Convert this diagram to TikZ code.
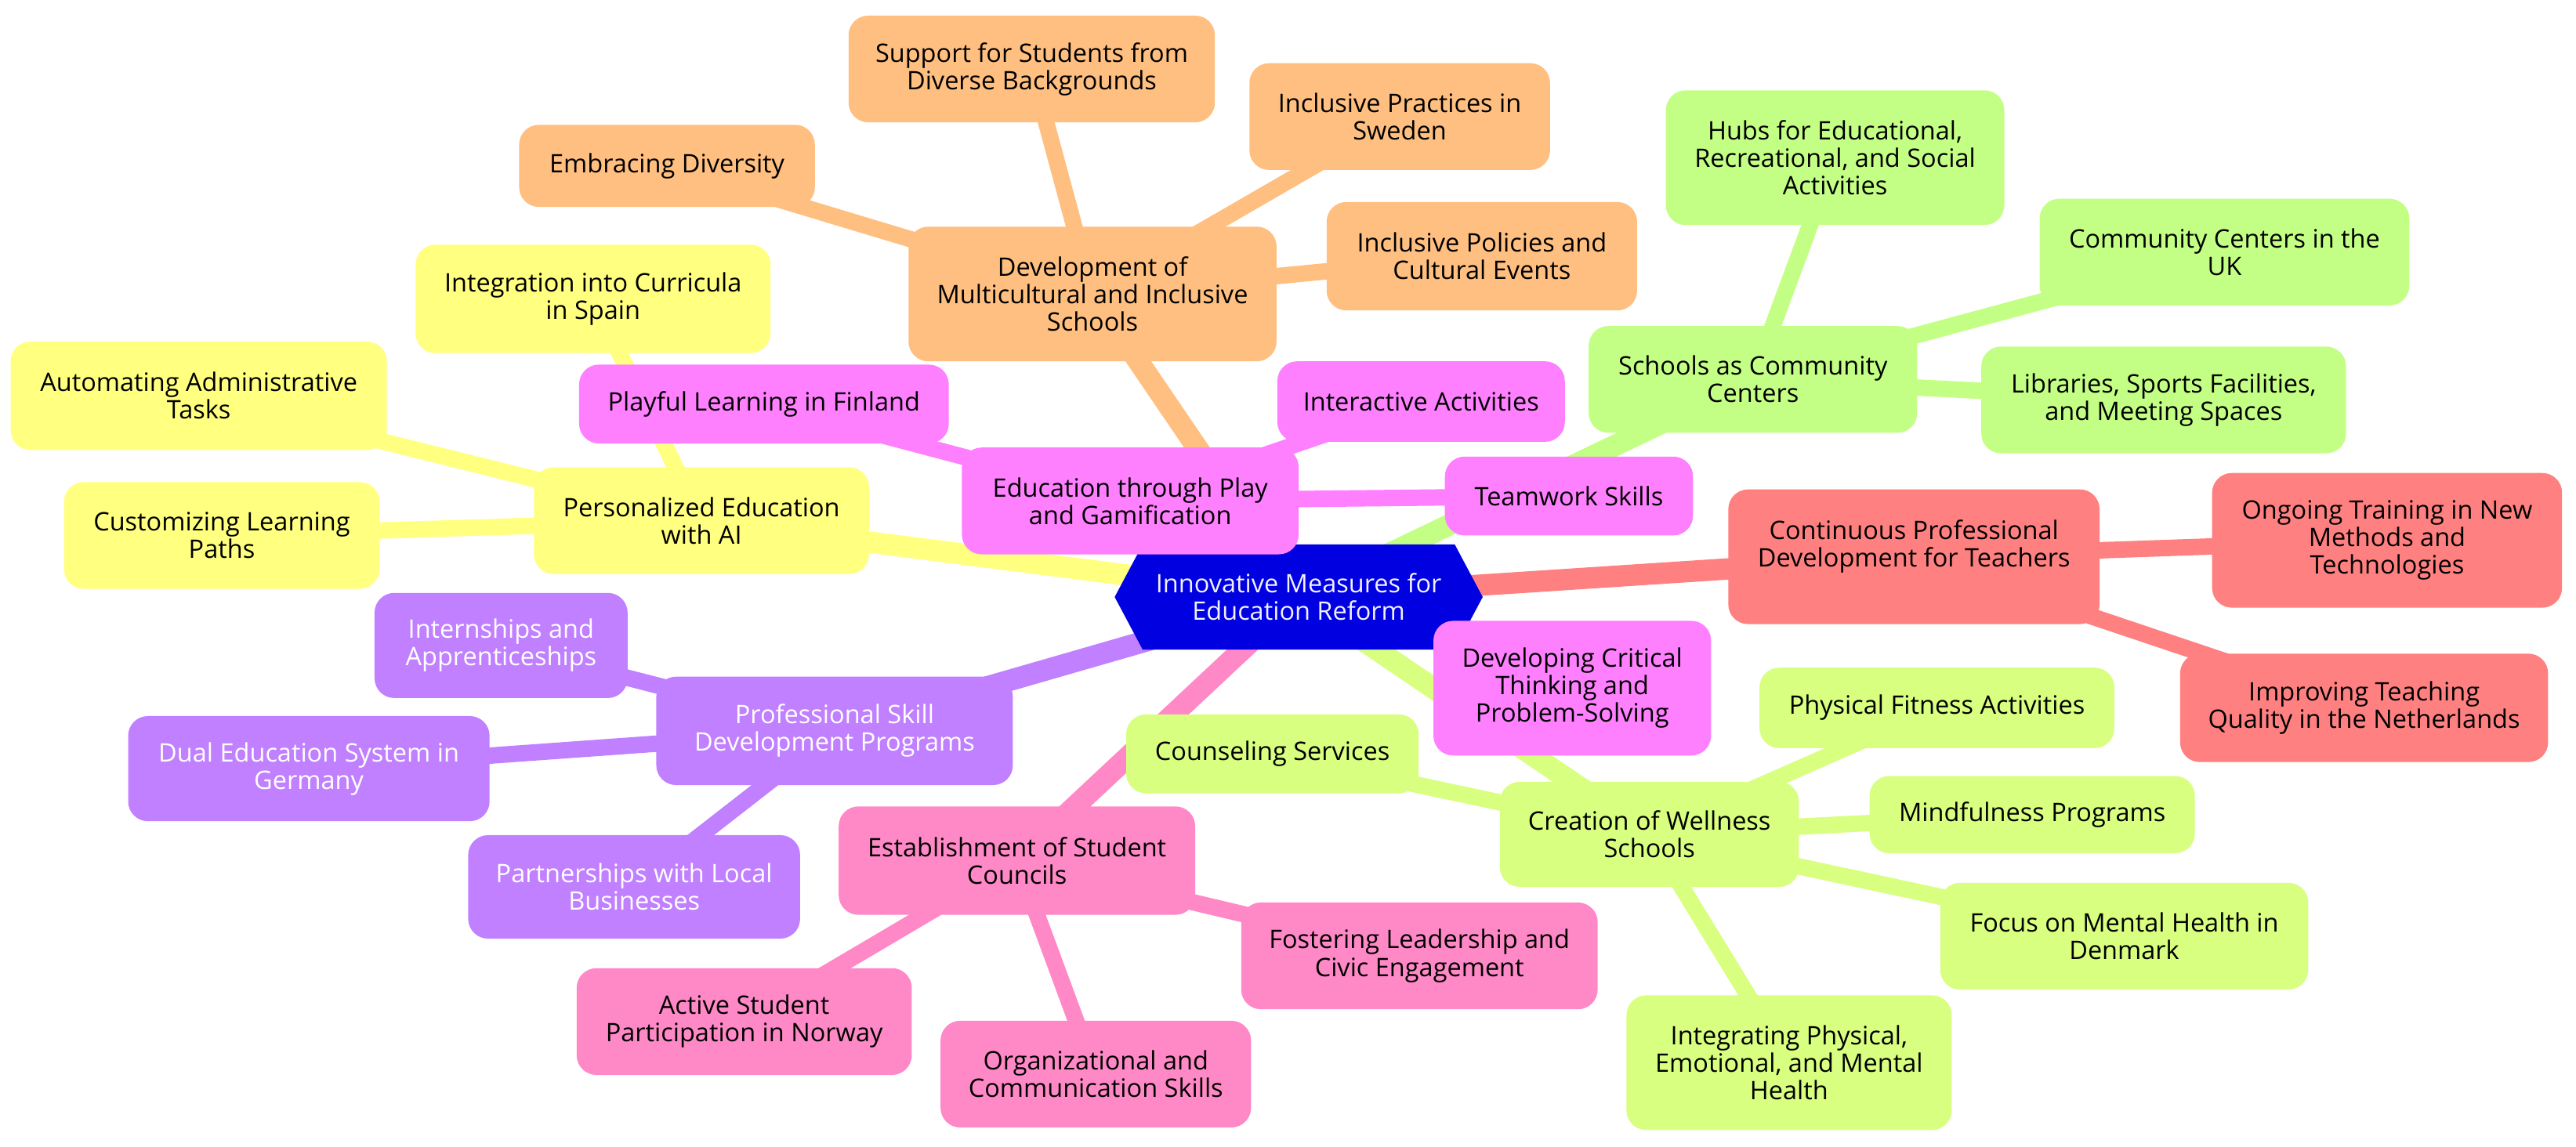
\documentclass[tikz,border=0pt]{standalone}
\usepackage{fontspec}
\setmainfont{Open Sans}
\usetikzlibrary{shapes.symbols,backgrounds}
\definecolor{cRoot}{HTML}{0000E0}
\definecolor{cOr}{HTML}{FFBF80}
\definecolor{cMag}{HTML}{FF80FF}
\definecolor{cGrn}{HTML}{C4FF85}
\definecolor{cRed}{HTML}{FF8080}
\definecolor{cWel}{HTML}{D8FF80}
\definecolor{cPnk}{HTML}{FF88C6}
\definecolor{cPur}{HTML}{C080FF}
\definecolor{cYel}{HTML}{FFFF80}
\tikzset{
  mm/.style={rectangle, rounded corners=12pt, align=center, inner sep=2pt,
    font=\fontsize{15.5}{16.7}\selectfont, text=black},
  bOr/.style={mm, fill=cOr}, bMag/.style={mm, fill=cMag}, bGrn/.style={mm, fill=cGrn},
  bRed/.style={mm, fill=cRed}, bWel/.style={mm, fill=cWel}, bPnk/.style={mm, fill=cPnk},
  bPur/.style={mm, fill=cPur, text=white}, bYel/.style={mm, fill=cYel},
  sz/.style 2 args={minimum width=#1pt, minimum height=#2pt},
  eone/.style={line width=13pt},
  etwo/.style={line width=10pt},
}
\begin{document}
\begin{tikzpicture}[x=1pt,y=-1pt]
\useasboundingbox (0,0) rectangle (1568,697.9);
% root
\node[shape=signal, signal to=west and east, signal pointer angle=124, fill=cRoot,
  text=white!94!blue, align=center, font=\fontsize{15.5}{16.7}\selectfont,
  minimum width=224pt, minimum height=64pt, inner sep=2pt] (root) at (790.5,363.5)
  {Innovative Measures for\\Education Reform};
% orange
\node[bOr, sz={224}{82}] (dev) at (665,179) {Development of\\Multicultural and Inclusive\\Schools};
\node[bOr, sz={223}{65}] (sup) at (628,42) {Support for Students from\\Diverse Backgrounds};
\node[bOr, sz={183}{65}] (swe) at (852,71) {Inclusive Practices in\\Sweden};
\node[bOr, sz={180}{50}] (emb) at (406,101) {Embracing Diversity};
\node[bOr, sz={189}{66}] (pol) at (902,156) {Inclusive Policies and\\Cultural Events};
% magenta
\node[bMag, sz={205}{65}] (play) at (688,305) {Education through Play\\and Gamification};
\node[bMag, sz={225}{48}] (fin) at (465,246) {Playful Learning in Finland};
\node[bMag, sz={175}{49}] (inter) at (865,244.5) {Interactive Activities};
\node[bMag, sz={151}{48}] (team) at (955,302) {Teamwork Skills};
\node[bMag, sz={169}{82}] (crit) at (957,419) {Developing Critical\\Thinking and\\Problem-Solving};
% green
\node[bGrn, sz={200}{65}] (sch) at (1067,231) {Schools as Community\\Centers};
\node[bGrn, sz={206}{82}] (hub) at (1117,96) {Hubs for Educational,\\Recreational, and Social\\Activities};
\node[bGrn, sz={225}{65}] (uk) at (1354,153.5) {Community Centers in the\\UK};
\node[bGrn, sz={222}{65}] (lib) at (1317,243.5) {Libraries, Sports Facilities,\\and Meeting Spaces};
% red
\node[bRed, sz={226}{82}] (cont) at (1165,339) {Continuous Professional\\Development for Teachers\\\mbox{}};
\node[bRed, sz={213}{82}] (ong) at (1453,329) {Ongoing Training in New\\Methods and\\Technologies};
\node[bRed, sz={224}{66}] (imp) at (1439,431) {Improving Teaching\\Quality in the Netherlands};
% wellness
\node[bWel, sz={182}{64}] (well) at (1004,508) {Creation of Wellness\\Schools};
\node[bWel, sz={178}{48}] (coun) at (774.5,459) {Counseling Services};
\node[bWel, sz={216}{49}] (phys) at (1179,431) {Physical Fitness Activities};
\node[bWel, sz={198}{47}] (mind) at (1237,496) {Mindfulness Programs};
\node[bWel, sz={224}{65}] (den) at (1293,570) {Focus on Mental Health in\\Denmark};
\node[bWel, sz={198}{82}] (integ) at (1089,647) {Integrating Physical,\\Emotional, and Mental\\Health};
% pink
\node[bPnk, sz={217}{66}] (stu) at (619,524) {Establishment of Student\\Councils};
\node[bPnk, sz={217}{65}] (fos) at (864,582) {Fostering Leadership and\\Civic Engagement};
\node[bPnk, sz={204}{65}] (nor) at (453,622) {Active Student\\Participation in Norway};
\node[bPnk, sz={189}{65}] (org) at (667,654) {Organizational and\\Communication Skills};
% purple
\node[bPur, sz={217}{66}] (prof) at (508,445) {Professional Skill\\Development Programs};
\node[bPur, sz={154}{64}] (intern) at (305,393) {Internships and\\Apprenticeships};
\node[bPur, sz={220}{64}] (dual) at (188,468) {Dual Education System in\\Germany};
\node[bPur, sz={202}{63}] (part) at (386,540) {Partnerships with Local\\Businesses};
% yellow
\node[bYel, sz={204}{65}] (pers) at (427,317) {Personalized Education\\with AI};
\node[bYel, sz={216}{66}] (spain) at (361,182) {Integration into Curricula\\in Spain};
\node[bYel, sz={229}{66}] (auto) at (121,241) {Automating Administrative\\Tasks};
\node[bYel, sz={192}{65}] (cust) at (135,326) {Customizing Learning\\Paths};
% edges
\begin{scope}[on background layer]
\draw[eone, cOr] (root.center) -- (dev.center);
\draw[eone, cMag] (root.center) -- (play.center);
\draw[eone, cGrn] (root.center) -- (sch.center);
\draw[eone, cRed] (root.center) -- (cont.center);
\draw[eone, cWel] (root.center) -- (well.center);
\draw[eone, cPnk] (root.center) -- (stu.center);
\draw[eone, cPur] (root.center) -- (prof.center);
\draw[eone, cYel] (root.center) -- (pers.center);
\draw[etwo, cOr] (dev.center) -- (sup.center);
\draw[etwo, cOr] (dev.center) -- (swe.center);
\draw[etwo, cOr] (dev.center) -- (emb.center);
\draw[etwo, cOr] (dev.center) -- (pol.center);
\draw[etwo, cMag] (play.center) -- (fin.center);
\draw[etwo, cMag] (play.center) -- (inter.center);
\draw[etwo, cMag] (play.center) -- (team.center);
\draw[etwo, cMag] (play.center) -- (crit.center);
\draw[etwo, cGrn] (sch.center) -- (hub.center);
\draw[etwo, cGrn] (sch.center) -- (uk.center);
\draw[etwo, cGrn] (sch.center) -- (lib.center);
\draw[etwo, cRed] (cont.center) -- (ong.center);
\draw[etwo, cRed] (cont.center) -- (imp.center);
\draw[etwo, cWel] (well.center) -- (coun.center);
\draw[etwo, cWel] (well.center) -- (phys.center);
\draw[etwo, cWel] (well.center) -- (mind.center);
\draw[etwo, cWel] (well.center) -- (den.center);
\draw[etwo, cWel] (well.center) -- (integ.center);
\draw[etwo, cPnk] (stu.center) -- (fos.center);
\draw[etwo, cPnk] (stu.center) -- (nor.center);
\draw[etwo, cPnk] (stu.center) -- (org.center);
\draw[etwo, cPur] (prof.center) -- (intern.center);
\draw[etwo, cPur] (prof.center) -- (dual.center);
\draw[etwo, cPur] (prof.center) -- (part.center);
\draw[etwo, cYel] (pers.center) -- (spain.center);
\draw[etwo, cYel] (pers.center) -- (auto.center);
\draw[etwo, cYel] (pers.center) -- (cust.center);
\end{scope}
\end{tikzpicture}
\end{document}
